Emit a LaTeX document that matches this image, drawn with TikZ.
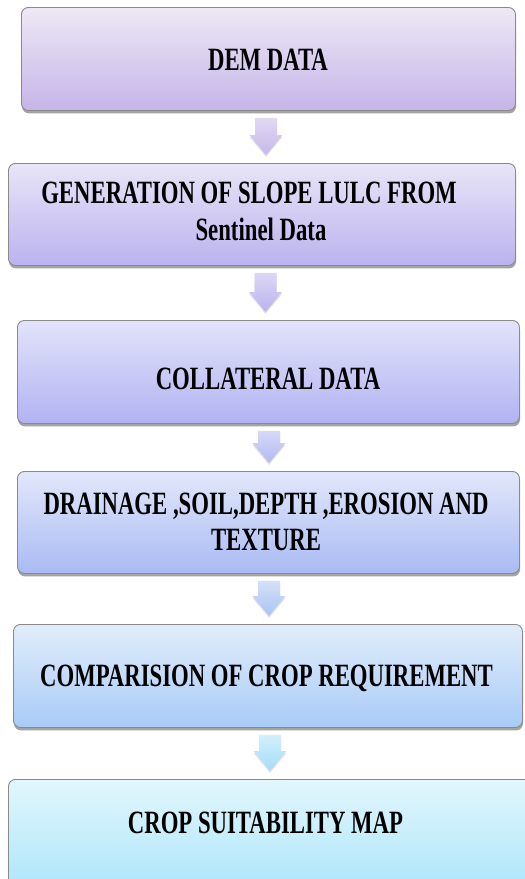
\documentclass[tikz,border=0pt]{standalone}
\usepackage{fontspec}
\setmainfont{Liberation Serif}[FakeStretch=0.70]
\usetikzlibrary{calc,shadows}
\definecolor{boxborder}{HTML}{8A8A8A}
\definecolor{c1t}{HTML}{EEE8F6}\definecolor{c1b}{HTML}{C5B5E8}
\definecolor{c2t}{HTML}{E8E5F7}\definecolor{c2b}{HTML}{BBB3EE}
\definecolor{c3t}{HTML}{E3E3FA}\definecolor{c3b}{HTML}{B1B3F2}
\definecolor{c4t}{HTML}{E2E7FA}\definecolor{c4b}{HTML}{A9BBF3}
\definecolor{c5t}{HTML}{E1EDFB}\definecolor{c5b}{HTML}{A8CBF6}
\definecolor{c6t}{HTML}{E2F6FD}\definecolor{c6b}{HTML}{A6E4F9}
\definecolor{a1t}{HTML}{E2D9F3}\definecolor{a1b}{HTML}{C6B7EA}
\definecolor{a2t}{HTML}{DCD7F5}\definecolor{a2b}{HTML}{BAB3EF}
\definecolor{a3t}{HTML}{D6D9F7}\definecolor{a3b}{HTML}{B2B9F3}
\definecolor{a4t}{HTML}{D4E0F8}\definecolor{a4b}{HTML}{A8C4F5}
\definecolor{a5t}{HTML}{D2EFFB}\definecolor{a5b}{HTML}{A4DDF7}
\tikzset{
  box/.style={draw=boxborder, line width=0.9pt, rounded corners=7pt,
    anchor=north west, inner sep=0pt,
    drop shadow={shadow xshift=0.6pt, shadow yshift=-3pt, opacity=0.55, fill=black!65}},
  lbl/.style={font=\fontsize{32.5}{36.5}\selectfont\bfseries, align=center, inner sep=0pt},
  flowarrow/.style={draw=none,
    drop shadow={shadow xshift=0pt, shadow yshift=-2pt, opacity=0.18, fill=black!60}},
}
% #1 from node, #2 to node, #3 x centre, #4 top colour, #5 bottom colour
\newcommand\blockarrow[5]{%
  \path[flowarrow, top color=#4, bottom color=#5]
    let \p1=(#1.south), \p2=(#2.north) in
    (#3pt-11pt,\y1-7pt) -- (#3pt+11pt,\y1-7pt) -- (#3pt+11pt,\y2+28pt)
    -- (#3pt+16.5pt,\y2+28pt) -- (#3pt,\y2+8pt) -- (#3pt-16.5pt,\y2+28pt)
    -- (#3pt-11pt,\y2+28pt) -- cycle;}
\begin{document}
\begin{tikzpicture}[x=1pt,y=-1pt]
\useasboundingbox (0,0) rectangle (525,879);
\clip (0,0) rectangle (525,879);
\node[box, top color=c1t, bottom color=c1b, minimum width=494pt, minimum height=103pt] (b1) at (21,7) {};
\node[box, top color=c2t, bottom color=c2b, minimum width=507pt, minimum height=102pt] (b2) at (8,163) {};
\node[box, top color=c3t, bottom color=c3b, minimum width=502pt, minimum height=103pt] (b3) at (17,320) {};
\node[box, top color=c4t, bottom color=c4b, minimum width=502pt, minimum height=102pt] (b4) at (17,471) {};
\node[box, top color=c5t, bottom color=c5b, minimum width=509pt, minimum height=103pt] (b5) at (13,624) {};
\node[box, top color=c6t, bottom color=c6b, minimum width=540pt, minimum height=125pt] (b6) at (8,779) {};

\node[lbl] (t1) at (268,60) {DEM DATA};
\node[lbl] (t2) at (261,211.5) {GENERATION OF SLOPE LULC FROM\hspace*{24pt}\\Sentinel Data};
\node[lbl] (t3) at (268,379) {COLLATERAL DATA};
\node[lbl] (t4) at (266,522) {DRAINAGE ,SOIL,DEPTH ,EROSION AND\\TEXTURE};
\node[lbl] (t5) at (266.5,678) {COMPARISION OF CROP REQUIREMENT};
\node[lbl] (t6) at (265.5,823) {CROP SUITABILITY MAP};

\blockarrow{b1}{b2}{266}{a1t}{a1b}
\blockarrow{b2}{b3}{265.5}{a2t}{a2b}
\blockarrow{b3}{b4}{269}{a3t}{a3b}
\blockarrow{b4}{b5}{269}{a4t}{a4b}
\blockarrow{b5}{b6}{270}{a5t}{a5b}
\end{tikzpicture}
\end{document}
